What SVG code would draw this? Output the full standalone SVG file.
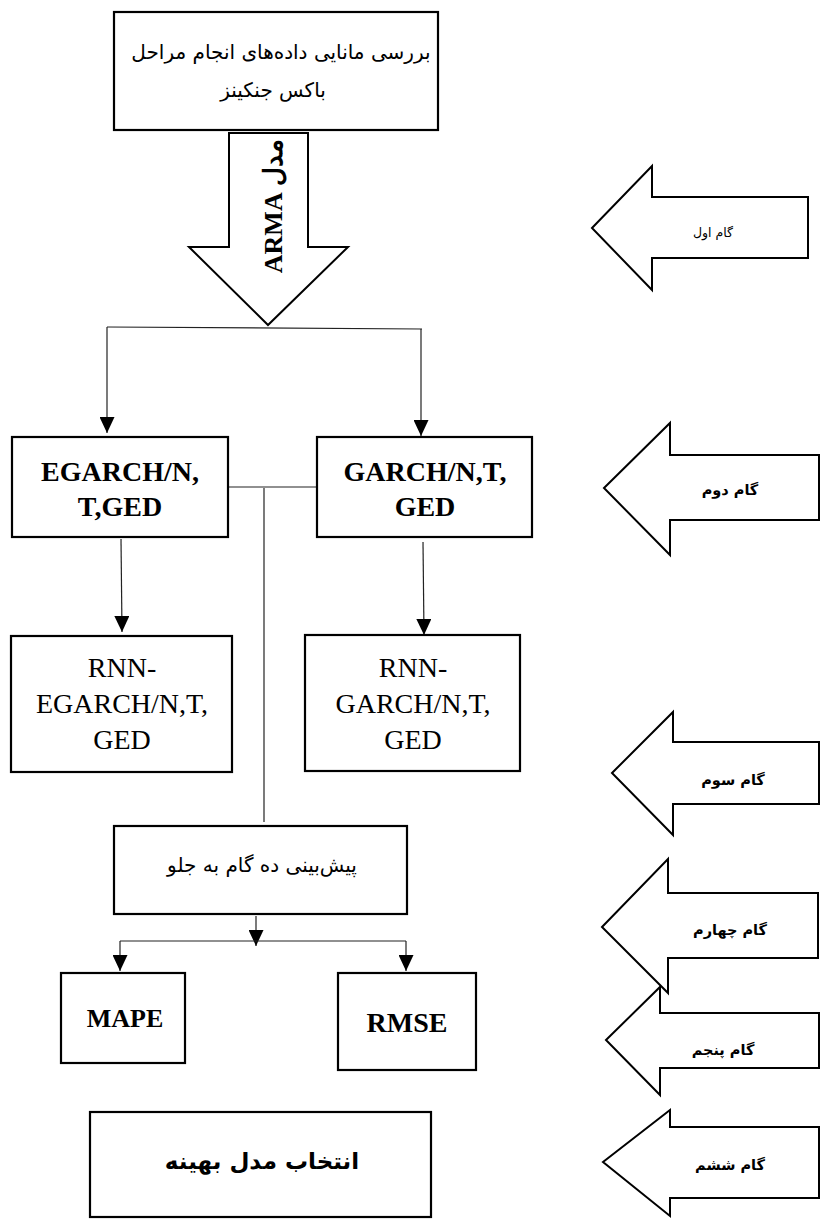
<svg xmlns="http://www.w3.org/2000/svg" width="820" height="1225" viewBox="0 0 820 1225">
<style>
.box{fill:#fff;stroke:#000;stroke-width:2.2}
.conn{fill:none;stroke:#222;stroke-width:1.2}
.step{fill:#fff;stroke:#000;stroke-width:2}
.lat{font-family:'Liberation Serif','Times New Roman',serif;fill:#000;text-anchor:middle}
.latb{font-family:'Liberation Serif','Times New Roman',serif;font-weight:bold;fill:#000;text-anchor:middle}
.fa{font-family:'DejaVu Sans',sans-serif;fill:#000;text-anchor:middle}
.fab{font-family:'DejaVu Sans',sans-serif;font-weight:bold;fill:#000;text-anchor:middle}
.st{font-size:14.5px}
</style>
<defs>
<marker id="ah" viewBox="0 0 16 15" refX="16" refY="7.5" markerWidth="16" markerHeight="15" markerUnits="userSpaceOnUse" orient="auto">
<path d="M0,0 L16,7.5 L0,15 z" fill="#000"/>
</marker>
</defs>
<rect width="820" height="1225" fill="#fff"/>

<g id="connectors">
<line class="conn" x1="107" y1="327" x2="422" y2="329"/>
<line class="conn" x1="107" y1="327" x2="107" y2="433" marker-end="url(#ah)"/>
<line class="conn" x1="421" y1="329" x2="421" y2="436" marker-end="url(#ah)"/>
<line class="conn" x1="228" y1="487" x2="317" y2="487"/>
<line class="conn" x1="264" y1="488" x2="264" y2="822"/>
<line class="conn" x1="121" y1="539" x2="122" y2="632" marker-end="url(#ah)"/>
<line class="conn" x1="423" y1="542" x2="424" y2="635" marker-end="url(#ah)"/>
<line class="conn" x1="256" y1="916" x2="256" y2="946" marker-end="url(#ah)"/>
<line class="conn" x1="120" y1="941" x2="406" y2="941"/>
<line class="conn" x1="120" y1="941" x2="120" y2="971" marker-end="url(#ah)"/>
<line class="conn" x1="406" y1="941" x2="406" y2="971" marker-end="url(#ah)"/>
</g>

<g id="box-stationarity">
<rect class="box" x="114" y="12" width="324" height="118"/>
<text class="fa" direction="rtl" x="281" y="59" font-size="20">بررسی مانایی داده‌های انجام مراحل</text>
<text class="fa" direction="rtl" x="273" y="97" font-size="20">باکس جنکینز</text>
</g>

<g id="arma-arrow">
<polygon class="step" points="229,133 308,133 308,247 348,247 268,325 189,247 229,247"/>
<text class="latb" direction="rtl" font-size="26" transform="translate(282,206) rotate(-90)" x="0" y="0">مدل ARMA</text>
</g>

<g id="box-egarch">
<rect class="box" x="12" y="437" width="216" height="100"/>
<text class="latb" x="120" y="481" font-size="28">EGARCH/N,</text>
<text class="latb" x="120" y="516" font-size="28">T,GED</text>
</g>

<g id="box-garch">
<rect class="box" x="317" y="437" width="215" height="100"/>
<text class="latb" x="425" y="481" font-size="28">GARCH/N,T,</text>
<text class="latb" x="425" y="516" font-size="28">GED</text>
</g>

<g id="box-rnn-egarch">
<rect class="box" x="11" y="636" width="221" height="136"/>
<text class="lat" x="122" y="677" font-size="28">RNN-</text>
<text class="lat" x="122" y="713" font-size="28">EGARCH/N,T,</text>
<text class="lat" x="122" y="749" font-size="28">GED</text>
</g>

<g id="box-rnn-garch">
<rect class="box" x="305" y="635" width="215" height="136"/>
<text class="lat" x="413" y="677" font-size="28">RNN-</text>
<text class="lat" x="413" y="713" font-size="28">GARCH/N,T,</text>
<text class="lat" x="413" y="749" font-size="28">GED</text>
</g>

<g id="box-forecast">
<rect class="box" x="114" y="826" width="293" height="88"/>
<text class="fa" direction="rtl" x="262" y="872" font-size="20">پیش‌بینی ده گام به جلو</text>
</g>

<g id="box-mape">
<rect class="box" x="61" y="973" width="124" height="90"/>
<text class="latb" x="125" y="1027" font-size="26">MAPE</text>
</g>

<g id="box-rmse">
<rect class="box" x="338" y="973" width="138" height="97"/>
<text class="latb" x="407" y="1032" font-size="28">RMSE</text>
</g>

<g id="box-select">
<rect class="box" x="90" y="1112" width="341" height="105"/>
<text class="fab" direction="rtl" x="262" y="1169" font-size="23">انتخاب مدل بهینه</text>
</g>

<g id="step-1">
<polygon class="step" points="592,228 652,166 652,197 808,197 808,258 652,258 652,290"/>
<text class="fa" direction="rtl" x="713" y="237" font-size="12.5">گام اول</text>
</g>
<g id="step-2">
<polygon class="step" points="604,488 670,423 670,455 819,455 819,520 670,520 670,555"/>
<text class="fab st" direction="rtl" x="730" y="495">گام دوم</text>
</g>
<g id="step-3">
<polygon class="step" points="612,773 673,712 673,742 819,742 819,804 673,804 673,835"/>
<text class="fab st" direction="rtl" x="733" y="785">گام سوم</text>
</g>
<g id="step-4">
<polygon class="step" points="602,927 668,859 668,893 818,893 818,958 668,958 668,993"/>
<text class="fab st" direction="rtl" x="730" y="935">گام چهارم</text>
</g>
<g id="step-5">
<polygon class="step" points="606,1040 660,987 660,1013 819,1013 819,1068 660,1068 660,1095"/>
<text class="fab st" direction="rtl" x="723" y="1055">گام پنجم</text>
</g>
<g id="step-6">
<polygon class="step" points="603,1162 670,1110 670,1127 819,1127 819,1198 670,1198 670,1216"/>
<text class="fab st" direction="rtl" x="730" y="1170">گام  ششم</text>
</g>
</svg>
